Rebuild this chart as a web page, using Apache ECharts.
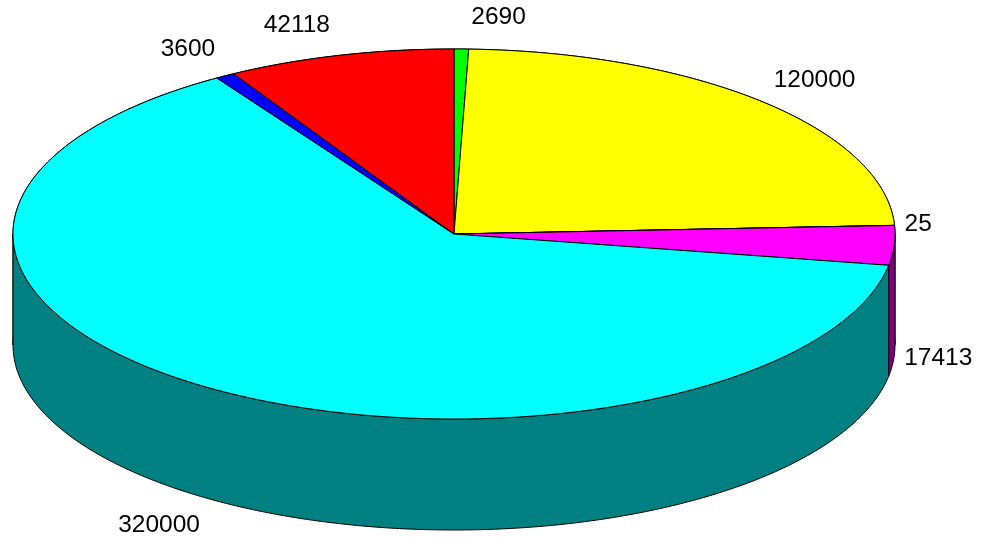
<!DOCTYPE html>
<html>
<head>
<meta charset="utf-8">
<script src="https://cdn.jsdelivr.net/npm/echarts@6/dist/echarts.min.js"></script>
<style>
  html, body { margin: 0; padding: 0; background: #ffffff; }
  #chart { width: 981px; height: 538px; }
</style>
</head>
<body>
<div id="chart"></div>
<script>
// Slice values, clockwise from twelve o'clock
const sliceValues = [2690, 120000, 25, 17413, 320000, 3600, 42118];
const sliceLabels = ['2690', '120000', '25', '17413', '320000', '3600', '42118'];
const topColors  = ['#00ff00', '#ffff00', '#ff8000', '#ff00ff', '#00ffff', '#0000ff', '#ff0000'];
const sideColors = ['#008000', '#808000', '#804000', '#800080', '#008080', '#000080', '#800000'];

// Geometry of the extruded pie, in axis units (x radius = 1, y radius = 1)
const DEPTH = 0.6;      // height of the cylinder wall
const LABEL_R = 1.17;   // vertical distance of labels from the centre
const LABEL_GAP = 10;   // horizontal gap between rim and label, px
const STEP = 0.5;       // arc sampling, degrees

const total = sliceValues.reduce((a, b) => a + b, 0);
let running = 0;
const slices = sliceValues.map(v => {
  const a0 = running / total * 360;
  running += v;
  return { a0: a0, a1: running / total * 360 };
});

function rimPoint(deg, drop) {
  const r = deg * Math.PI / 180;
  return [Math.sin(r), Math.cos(r) - drop];
}

function arc(s, e, drop) {
  const n = Math.max(2, Math.ceil(Math.abs(e - s) / STEP));
  const pts = [];
  for (let k = 0; k <= n; k++) pts.push(rimPoint(s + (e - s) * k / n, drop));
  return pts;
}

// Split a slice's angular range into wall pieces facing the viewer (front)
// or facing away (back)
function wallPieces(a0, a1, front) {
  const bounds = [0, 90, 270, 360];
  const out = [];
  for (let i = 0; i < 3; i++) {
    const isFront = (i === 1);
    if (isFront !== front) continue;
    const s = Math.max(a0, bounds[i]);
    const e = Math.min(a1, bounds[i + 1]);
    if (e > s) out.push([s, e]);
  }
  return out;
}

function wallRenderer(front) {
  return function (params, api) {
    const i = api.value(2);
    const sl = slices[i];
    const children = wallPieces(sl.a0, sl.a1, front).map(([s, e]) => {
      const pts = arc(s, e, 0).concat(arc(e, s, DEPTH)).map(p => api.coord(p));
      return {
        type: 'polygon',
        shape: { points: pts },
        style: { fill: sideColors[i], stroke: '#000000', lineWidth: 1, lineJoin: 'round' }
      };
    });
    return { type: 'group', children: children };
  };
}

function topRenderer(params, api) {
  const i = api.value(2);
  const sl = slices[i];
  const pts = [[0, 0]].concat(arc(sl.a0, sl.a1, 0)).map(p => api.coord(p));
  return {
    type: 'polygon',
    shape: { points: pts },
    style: { fill: topColors[i], stroke: '#000000', lineWidth: 1, lineJoin: 'round' }
  };
}

function labelRenderer(params, api) {
  const i = api.value(2);
  const sl = slices[i];
  const m = (sl.a0 + sl.a1) / 2 * Math.PI / 180;
  const sx = Math.sin(m), cy = Math.cos(m);
  const yData = LABEL_R * cy - (cy < 0 ? DEPTH : 0);
  const p = api.coord([sx, yData]);
  const right = sx >= 0;
  return {
    type: 'text',
    style: {
      x: p[0] + (right ? LABEL_GAP : -LABEL_GAP),
      y: p[1],
      text: sliceLabels[i],
      fill: '#000000',
      fontSize: 24.5,
      fontFamily: 'Liberation Sans, Arial, sans-serif',
      align: right ? 'left' : 'right',
      verticalAlign: 'middle'
    }
  };
}

const itemData = sliceValues.map((v, i) => [0, 0, i]);

const chart = echarts.init(document.getElementById('chart'), null, { renderer: 'canvas' });
chart.setOption({
  animation: false,
  backgroundColor: '#ffffff',
  grid: { left: 13, width: 882, top: 49, height: 481 },
  xAxis: { type: 'value', min: -1, max: 1, show: false },
  yAxis: { type: 'value', min: -1.6, max: 1, show: false },
  series: [
    { type: 'custom', z: 1, silent: true, clip: false, data: itemData, renderItem: wallRenderer(false) },
    { type: 'custom', z: 2, silent: true, clip: false, data: itemData, renderItem: wallRenderer(true) },
    { type: 'custom', z: 3, silent: true, clip: false, data: itemData, renderItem: topRenderer },
    { type: 'custom', z: 4, silent: true, clip: false, data: itemData, renderItem: labelRenderer }
  ]
});
</script>
</body>
</html>
